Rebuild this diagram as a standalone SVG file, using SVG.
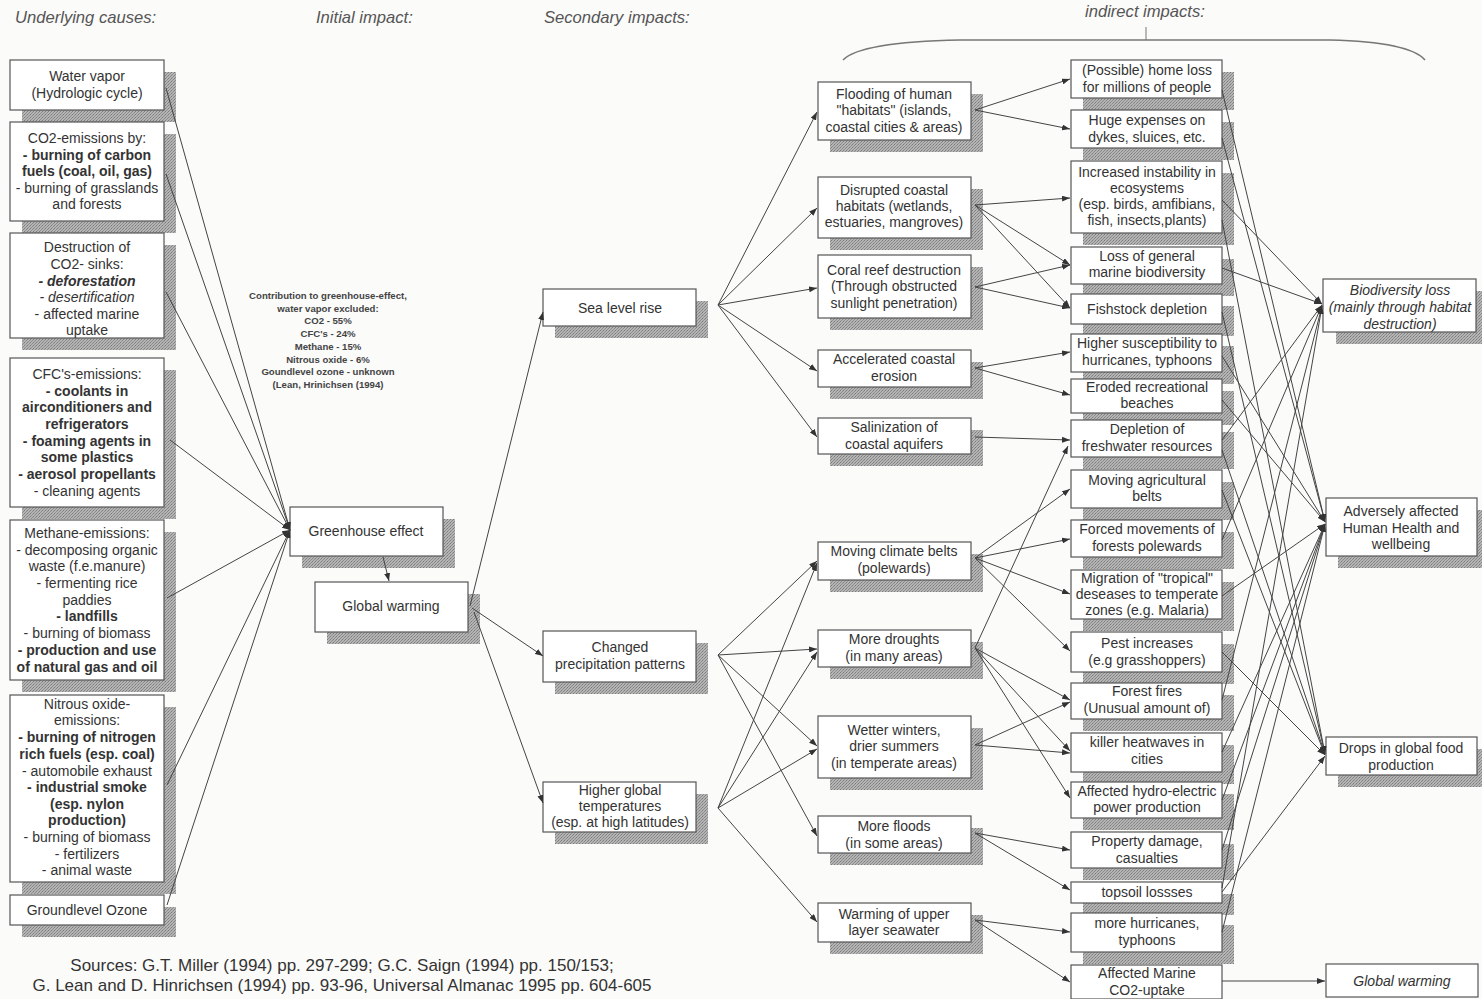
<svg xmlns="http://www.w3.org/2000/svg" width="1482" height="999" viewBox="0 0 1482 999">
  <defs>
    <pattern id="grain" width="3" height="3" patternUnits="userSpaceOnUse">
      <rect width="3" height="3" fill="#b4b4b4"/>
      <rect x="0" y="0" width="1" height="1" fill="#7c7c7c"/>
      <rect x="2" y="1" width="1" height="1" fill="#8a8a8a"/>
      <rect x="1" y="2" width="1" height="1" fill="#909090"/>
    </pattern>
    <marker id="ah" markerWidth="8" markerHeight="6" refX="8" refY="3" orient="auto" markerUnits="userSpaceOnUse">
      <path d="M0,0 L8,3 L0,6 z" fill="#333"/>
    </marker>
    <style>
      .sh { fill: url(#grain); }
      .bx { fill: #fff; stroke: #555; stroke-width: 1.2; }
      .t { font-family: "Liberation Sans", Arial, sans-serif; font-size: 14px; fill: #333; text-anchor: middle; }
      .b { font-weight: bold; font-size: 14px; }
      .i { font-style: italic; }
      .hd { font-family: "Liberation Sans", Arial, sans-serif; font-size: 16.6px; font-style: italic; fill: #555; }
      .note { font-family: "Liberation Sans", Arial, sans-serif; font-size: 9.6px; font-weight: bold; fill: #444; text-anchor: middle; }
      .src { font-family: "Liberation Sans", Arial, sans-serif; font-size: 17px; fill: #333; text-anchor: middle; }
      .ln { stroke: #444; stroke-width: 1; fill: none; marker-end: url(#ah); }
    </style>
  </defs>

  <rect width="1482" height="999" fill="#fbfbfa"/>

  <!-- column headings -->
  <g id="headings">
    <text class="hd" x="15" y="23">Underlying causes:</text>
    <text class="hd" x="316" y="23">Initial impact:</text>
    <text class="hd" x="544" y="23">Secondary impacts:</text>
    <text class="hd" x="1085" y="17">indirect impacts:</text>
    <path d="M843,60 Q860,42 960,40 L1330,40 Q1410,42 1425,60" fill="none" stroke="#777" stroke-width="1.5"/>
    <line x1="1146" y1="27" x2="1146" y2="40" stroke="#777" stroke-width="1"/>
  </g>

  <!-- underlying causes -->
  <g id="water-vapor">
    <rect class="sh" x="22" y="72" width="154" height="50"/>
    <rect class="bx" x="10" y="60" width="154" height="50"/>
    <text class="t" x="87" y="81">Water vapor</text>
    <text class="t" x="87" y="98">(Hydrologic cycle)</text>
  </g>
  <g id="co2-emissions">
    <rect class="sh" x="22" y="134" width="154" height="99"/>
    <rect class="bx" x="10" y="122" width="154" height="99"/>
    <text class="t" x="87" y="143">CO2-emissions by:</text>
    <text class="t b" x="87" y="160">- burning of carbon</text>
    <text class="t b" x="87" y="176">fuels (coal, oil, gas)</text>
    <text class="t" x="87" y="193">- burning of grasslands</text>
    <text class="t" x="87" y="209">and forests</text>
  </g>
  <g id="co2-sinks">
    <rect class="sh" x="22" y="245" width="154" height="105"/>
    <rect class="bx" x="10" y="233" width="154" height="105"/>
    <text class="t" x="87" y="252">Destruction of</text>
    <text class="t" x="87" y="269">CO2- sinks:</text>
    <text class="t b i" x="87" y="286">- deforestation</text>
    <text class="t i" x="87" y="302">- desertification</text>
    <text class="t" x="87" y="319">- affected marine</text>
    <text class="t" x="87" y="335">uptake</text>
  </g>
  <g id="cfc-emissions">
    <rect class="sh" x="22" y="370" width="154" height="149"/>
    <rect class="bx" x="10" y="358" width="154" height="149"/>
    <text class="t" x="87" y="379">CFC's-emissions:</text>
    <text class="t b" x="87" y="396">- coolants in</text>
    <text class="t b" x="87" y="412">airconditioners and</text>
    <text class="t b" x="87" y="429">refrigerators</text>
    <text class="t b" x="87" y="446">- foaming agents in</text>
    <text class="t b" x="87" y="462">some plastics</text>
    <text class="t b" x="87" y="479">- aerosol propellants</text>
    <text class="t" x="87" y="496">-  cleaning agents</text>
  </g>
  <g id="methane-emissions">
    <rect class="sh" x="22" y="532" width="154" height="160"/>
    <rect class="bx" x="10" y="520" width="154" height="160"/>
    <text class="t" x="87" y="538">Methane-emissions:</text>
    <text class="t" x="87" y="555">- decomposing organic</text>
    <text class="t" x="87" y="571">waste (f.e.manure)</text>
    <text class="t" x="87" y="588">- fermenting rice</text>
    <text class="t" x="87" y="605">paddies</text>
    <text class="t b" x="87" y="621">- landfills</text>
    <text class="t" x="87" y="638">- burning of biomass</text>
    <text class="t b" x="87" y="655">- production and use</text>
    <text class="t b" x="87" y="672">of natural gas and oil</text>
  </g>
  <g id="nitrous-oxide">
    <rect class="sh" x="22" y="707" width="154" height="187"/>
    <rect class="bx" x="10" y="695" width="154" height="187"/>
    <text class="t" x="87" y="709">Nitrous oxide-</text>
    <text class="t" x="87" y="725">emissions:</text>
    <text class="t b" x="87" y="742">- burning of nitrogen</text>
    <text class="t b" x="87" y="759">rich fuels (esp. coal)</text>
    <text class="t" x="87" y="776">- automobile exhaust</text>
    <text class="t b" x="87" y="792">- industrial smoke</text>
    <text class="t b" x="87" y="809">(esp. nylon</text>
    <text class="t b" x="87" y="825">production)</text>
    <text class="t" x="87" y="842">- burning of biomass</text>
    <text class="t" x="87" y="859">- fertilizers</text>
    <text class="t" x="87" y="875">- animal waste</text>
  </g>
  <g id="groundlevel-ozone">
    <rect class="sh" x="22" y="907" width="154" height="30"/>
    <rect class="bx" x="10" y="895" width="154" height="30"/>
    <text class="t" x="87" y="915">Groundlevel Ozone</text>
  </g>

  <!-- note on contributions -->
  <g id="contribution-note">
    <text class="note" x="328" y="299">Contribution to greenhouse-effect,</text>
    <text class="note" x="328" y="311.7">water vapor excluded:</text>
    <text class="note" x="328" y="324.4">CO2 - 55%</text>
    <text class="note" x="328" y="337.1">CFC's - 24%</text>
    <text class="note" x="328" y="349.8">Methane - 15%</text>
    <text class="note" x="328" y="362.5">Nitrous oxide - 6%</text>
    <text class="note" x="328" y="375.2">Goundlevel ozone - unknown</text>
    <text class="note" x="328" y="387.9">(Lean, Hrinichsen (1994)</text>
  </g>

  <!-- initial impact -->
  <g id="greenhouse-effect">
    <rect class="sh" x="302" y="519" width="153" height="49"/>
    <rect class="bx" x="290" y="507" width="153" height="49"/>
    <text class="t" x="366" y="536">Greenhouse effect</text>
  </g>
  <g id="global-warming">
    <rect class="sh" x="327" y="594" width="153" height="50"/>
    <rect class="bx" x="315" y="582" width="153" height="50"/>
    <text class="t" x="391" y="611">Global warming</text>
  </g>

  <!-- secondary impacts -->
  <g id="sea-level-rise">
    <rect class="sh" x="555" y="301" width="153" height="37"/>
    <rect class="bx" x="543" y="289" width="153" height="37"/>
    <text class="t" x="620" y="313">Sea level rise</text>
  </g>
  <g id="precipitation">
    <rect class="sh" x="555" y="643" width="153" height="51"/>
    <rect class="bx" x="543" y="631" width="153" height="51"/>
    <text class="t" x="620" y="652">Changed</text>
    <text class="t" x="620" y="669">precipitation patterns</text>
  </g>
  <g id="higher-temperatures">
    <rect class="sh" x="555" y="794" width="153" height="50"/>
    <rect class="bx" x="543" y="782" width="153" height="50"/>
    <text class="t" x="620" y="795">Higher global</text>
    <text class="t" x="620" y="811">temperatures</text>
    <text class="t" x="620" y="827">(esp. at high latitudes)</text>
  </g>

  <!-- direct consequences -->
  <g id="flooding">
    <rect class="sh" x="830" y="94" width="153" height="58"/>
    <rect class="bx" x="818" y="82" width="153" height="58"/>
    <text class="t" x="894" y="99">Flooding of human</text>
    <text class="t" x="894" y="115">"habitats" (islands,</text>
    <text class="t" x="894" y="132">coastal cities &amp; areas)</text>
  </g>
  <g id="coastal-habitats">
    <rect class="sh" x="830" y="189" width="153" height="61"/>
    <rect class="bx" x="818" y="177" width="153" height="61"/>
    <text class="t" x="894" y="195">Disrupted coastal</text>
    <text class="t" x="894" y="211">habitats (wetlands,</text>
    <text class="t" x="894" y="227">estuaries, mangroves)</text>
  </g>
  <g id="coral-reef">
    <rect class="sh" x="830" y="267" width="153" height="63"/>
    <rect class="bx" x="818" y="255" width="153" height="63"/>
    <text class="t" x="894" y="275">Coral reef destruction</text>
    <text class="t" x="894" y="291">(Through obstructed</text>
    <text class="t" x="894" y="308">sunlight penetration)</text>
  </g>
  <g id="coastal-erosion">
    <rect class="sh" x="830" y="362" width="153" height="37"/>
    <rect class="bx" x="818" y="350" width="153" height="37"/>
    <text class="t" x="894" y="364">Accelerated coastal</text>
    <text class="t" x="894" y="381">erosion</text>
  </g>
  <g id="salinization">
    <rect class="sh" x="830" y="430" width="153" height="36"/>
    <rect class="bx" x="818" y="418" width="153" height="36"/>
    <text class="t" x="894" y="432">Salinization of</text>
    <text class="t" x="894" y="449">coastal aquifers</text>
  </g>
  <g id="climate-belts">
    <rect class="sh" x="830" y="554" width="153" height="38"/>
    <rect class="bx" x="818" y="542" width="153" height="38"/>
    <text class="t" x="894" y="556">Moving climate belts</text>
    <text class="t" x="894" y="573">(polewards)</text>
  </g>
  <g id="droughts">
    <rect class="sh" x="830" y="642" width="153" height="37"/>
    <rect class="bx" x="818" y="630" width="153" height="37"/>
    <text class="t" x="894" y="644">More droughts</text>
    <text class="t" x="894" y="661">(in many areas)</text>
  </g>
  <g id="wetter-winters">
    <rect class="sh" x="830" y="728" width="153" height="62"/>
    <rect class="bx" x="818" y="716" width="153" height="62"/>
    <text class="t" x="894" y="735">Wetter winters,</text>
    <text class="t" x="894" y="751">drier summers</text>
    <text class="t" x="894" y="768">(in temperate areas)</text>
  </g>
  <g id="floods">
    <rect class="sh" x="830" y="828" width="153" height="37"/>
    <rect class="bx" x="818" y="816" width="153" height="37"/>
    <text class="t" x="894" y="831">More floods</text>
    <text class="t" x="894" y="848">(in some areas)</text>
  </g>
  <g id="upper-seawater">
    <rect class="sh" x="830" y="915" width="153" height="39"/>
    <rect class="bx" x="818" y="903" width="153" height="39"/>
    <text class="t" x="894" y="919">Warming of upper</text>
    <text class="t" x="894" y="935">layer seawater</text>
  </g>

  <!-- indirect impacts -->
  <g id="home-loss">
    <rect class="sh" x="1083" y="72" width="151" height="38"/>
    <rect class="bx" x="1071" y="60" width="151" height="38"/>
    <text class="t" x="1147" y="75">(Possible) home loss</text>
    <text class="t" x="1147" y="92">for millions of people</text>
  </g>
  <g id="dykes">
    <rect class="sh" x="1083" y="122" width="151" height="38"/>
    <rect class="bx" x="1071" y="110" width="151" height="38"/>
    <text class="t" x="1147" y="125">Huge expenses on</text>
    <text class="t" x="1147" y="142">dykes, sluices, etc.</text>
  </g>
  <g id="ecosystem-instability">
    <rect class="sh" x="1083" y="173" width="151" height="72"/>
    <rect class="bx" x="1071" y="161" width="151" height="72"/>
    <text class="t" x="1147" y="177">Increased instability in</text>
    <text class="t" x="1147" y="193">ecosystems</text>
    <text class="t" x="1147" y="209">(esp. birds, amfibians,</text>
    <text class="t" x="1147" y="225">fish, insects,plants)</text>
  </g>
  <g id="marine-biodiversity">
    <rect class="sh" x="1083" y="259" width="151" height="37"/>
    <rect class="bx" x="1071" y="247" width="151" height="37"/>
    <text class="t" x="1147" y="261">Loss of general</text>
    <text class="t" x="1147" y="277">marine biodiversity</text>
  </g>
  <g id="fishstock">
    <rect class="sh" x="1083" y="306" width="151" height="30"/>
    <rect class="bx" x="1071" y="294" width="151" height="30"/>
    <text class="t" x="1147" y="314">Fishstock depletion</text>
  </g>
  <g id="susceptibility">
    <rect class="sh" x="1083" y="346" width="151" height="38"/>
    <rect class="bx" x="1071" y="334" width="151" height="38"/>
    <text class="t" x="1147" y="348">Higher susceptibility to</text>
    <text class="t" x="1147" y="365">hurricanes, typhoons</text>
  </g>
  <g id="beaches">
    <rect class="sh" x="1083" y="391" width="151" height="34"/>
    <rect class="bx" x="1071" y="379" width="151" height="34"/>
    <text class="t" x="1147" y="392">Eroded recreational</text>
    <text class="t" x="1147" y="408">beaches</text>
  </g>
  <g id="freshwater">
    <rect class="sh" x="1083" y="432" width="151" height="37"/>
    <rect class="bx" x="1071" y="420" width="151" height="37"/>
    <text class="t" x="1147" y="434">Depletion of</text>
    <text class="t" x="1147" y="451">freshwater resources</text>
  </g>
  <g id="agricultural-belts">
    <rect class="sh" x="1083" y="482" width="151" height="38"/>
    <rect class="bx" x="1071" y="470" width="151" height="38"/>
    <text class="t" x="1147" y="485">Moving agricultural</text>
    <text class="t" x="1147" y="501">belts</text>
  </g>
  <g id="forests">
    <rect class="sh" x="1083" y="532" width="151" height="37"/>
    <rect class="bx" x="1071" y="520" width="151" height="37"/>
    <text class="t" x="1147" y="534">Forced movements of</text>
    <text class="t" x="1147" y="551">forests polewards</text>
  </g>
  <g id="tropical-diseases">
    <rect class="sh" x="1083" y="582" width="151" height="49"/>
    <rect class="bx" x="1071" y="570" width="151" height="49"/>
    <text class="t" x="1147" y="583">Migration of "tropical"</text>
    <text class="t" x="1147" y="599">deseases to temperate</text>
    <text class="t" x="1147" y="615">zones (e.g. Malaria)</text>
  </g>
  <g id="pests">
    <rect class="sh" x="1083" y="644" width="151" height="40"/>
    <rect class="bx" x="1071" y="632" width="151" height="40"/>
    <text class="t" x="1147" y="648">Pest increases</text>
    <text class="t" x="1147" y="665">(e.g grasshoppers)</text>
  </g>
  <g id="forest-fires">
    <rect class="sh" x="1083" y="695" width="151" height="36"/>
    <rect class="bx" x="1071" y="683" width="151" height="36"/>
    <text class="t" x="1147" y="696">Forest fires</text>
    <text class="t" x="1147" y="713">(Unusual amount of)</text>
  </g>
  <g id="heatwaves">
    <rect class="sh" x="1083" y="745" width="151" height="39"/>
    <rect class="bx" x="1071" y="733" width="151" height="39"/>
    <text class="t" x="1147" y="747">killer heatwaves in</text>
    <text class="t" x="1147" y="764">cities</text>
  </g>
  <g id="hydro-electric">
    <rect class="sh" x="1083" y="794" width="151" height="36"/>
    <rect class="bx" x="1071" y="782" width="151" height="36"/>
    <text class="t" x="1147" y="796">Affected hydro-electric</text>
    <text class="t" x="1147" y="812">power production</text>
  </g>
  <g id="property-damage">
    <rect class="sh" x="1083" y="844" width="151" height="36"/>
    <rect class="bx" x="1071" y="832" width="151" height="36"/>
    <text class="t" x="1147" y="846">Property damage,</text>
    <text class="t" x="1147" y="863">casualties</text>
  </g>
  <g id="topsoil">
    <rect class="sh" x="1083" y="894" width="151" height="21"/>
    <rect class="bx" x="1071" y="882" width="151" height="21"/>
    <text class="t" x="1147" y="897">topsoil lossses</text>
  </g>
  <g id="hurricanes">
    <rect class="sh" x="1083" y="925" width="151" height="39"/>
    <rect class="bx" x="1071" y="913" width="151" height="39"/>
    <text class="t" x="1147" y="928">more hurricanes,</text>
    <text class="t" x="1147" y="945">typhoons</text>
  </g>
  <g id="marine-uptake">
    <rect class="bx" x="1071" y="965" width="151" height="34"/>
    <text class="t" x="1147" y="978">Affected Marine</text>
    <text class="t" x="1147" y="995">CO2-uptake</text>
  </g>

  <!-- final outcomes -->
  <g id="biodiversity-loss">
    <rect class="sh" x="1336" y="291" width="153" height="53"/>
    <rect class="bx" x="1323" y="279" width="153" height="53"/>
    <text class="t i" x="1400" y="295">Biodiversity loss</text>
    <text class="t i" x="1400" y="312">(mainly through habitat</text>
    <text class="t i" x="1400" y="329">destruction)</text>
  </g>
  <g id="human-health">
    <rect class="sh" x="1338" y="510" width="151" height="58"/>
    <rect class="bx" x="1326" y="498" width="151" height="58"/>
    <text class="t" x="1401" y="516">Adversely affected</text>
    <text class="t" x="1401" y="533">Human Health and</text>
    <text class="t" x="1401" y="549">wellbeing</text>
  </g>
  <g id="food-production">
    <rect class="sh" x="1338" y="749" width="151" height="38"/>
    <rect class="bx" x="1326" y="737" width="151" height="38"/>
    <text class="t" x="1401" y="753">Drops in global food</text>
    <text class="t" x="1401" y="770">production</text>
  </g>
  <g id="global-warming-feedback">
    <rect class="bx" x="1326" y="964" width="152" height="33"/>
    <text class="t i" x="1402" y="986">Global warming</text>
  </g>

  <!-- connectors -->
  <g id="connectors">
    <!-- causes to greenhouse effect -->
    <line class="ln" x1="166" y1="88" x2="290" y2="530"/>
    <line class="ln" x1="166" y1="174" x2="290" y2="530"/>
    <line class="ln" x1="166" y1="292" x2="290" y2="530"/>
    <line class="ln" x1="170" y1="440" x2="290" y2="530"/>
    <line class="ln" x1="167" y1="598" x2="290" y2="530"/>
    <line class="ln" x1="167" y1="785" x2="290" y2="530"/>
    <line class="ln" x1="167" y1="905" x2="290" y2="530"/>
    <!-- initial chain -->
    <line class="ln" x1="383" y1="557" x2="389" y2="581"/>
    <line class="ln" x1="470" y1="606" x2="543" y2="312"/>
    <line class="ln" x1="472" y1="608" x2="543" y2="656"/>
    <line class="ln" x1="474" y1="612" x2="543" y2="803"/>
    <!-- sea level rise -->
    <line class="ln" x1="718" y1="305" x2="817" y2="112"/>
    <line class="ln" x1="718" y1="305" x2="817" y2="208"/>
    <line class="ln" x1="718" y1="305" x2="817" y2="288"/>
    <line class="ln" x1="718" y1="305" x2="817" y2="371"/>
    <line class="ln" x1="718" y1="305" x2="817" y2="437"/>
    <!-- changed precipitation -->
    <line class="ln" x1="718" y1="655" x2="817" y2="561"/>
    <line class="ln" x1="718" y1="655" x2="817" y2="649"/>
    <line class="ln" x1="718" y1="655" x2="817" y2="746"/>
    <line class="ln" x1="718" y1="655" x2="817" y2="836"/>
    <!-- higher temperatures -->
    <line class="ln" x1="718" y1="808" x2="817" y2="563"/>
    <line class="ln" x1="718" y1="808" x2="817" y2="652"/>
    <line class="ln" x1="718" y1="808" x2="817" y2="749"/>
    <line class="ln" x1="718" y1="808" x2="817" y2="922"/>
    <!-- coastal consequences -->
    <line class="ln" x1="975" y1="110" x2="1070" y2="79"/>
    <line class="ln" x1="975" y1="110" x2="1070" y2="129"/>
    <line class="ln" x1="975" y1="205" x2="1070" y2="198"/>
    <line class="ln" x1="975" y1="205" x2="1070" y2="265"/>
    <line class="ln" x1="975" y1="205" x2="1070" y2="308"/>
    <line class="ln" x1="975" y1="287" x2="1070" y2="265"/>
    <line class="ln" x1="975" y1="287" x2="1070" y2="308"/>
    <line class="ln" x1="975" y1="368" x2="1070" y2="352"/>
    <line class="ln" x1="975" y1="368" x2="1070" y2="395"/>
    <line class="ln" x1="975" y1="437" x2="1070" y2="440"/>
    <!-- climate consequences -->
    <line class="ln" x1="975" y1="558" x2="1070" y2="489"/>
    <line class="ln" x1="975" y1="558" x2="1070" y2="539"/>
    <line class="ln" x1="975" y1="558" x2="1070" y2="594"/>
    <line class="ln" x1="975" y1="558" x2="1070" y2="651"/>
    <line class="ln" x1="975" y1="648" x2="1068" y2="446"/>
    <line class="ln" x1="975" y1="648" x2="1070" y2="700"/>
    <line class="ln" x1="975" y1="648" x2="1070" y2="751"/>
    <line class="ln" x1="975" y1="648" x2="1070" y2="798"/>
    <line class="ln" x1="975" y1="745" x2="1070" y2="702"/>
    <line class="ln" x1="975" y1="745" x2="1070" y2="753"/>
    <line class="ln" x1="975" y1="833" x2="1070" y2="850"/>
    <line class="ln" x1="975" y1="833" x2="1070" y2="890"/>
    <line class="ln" x1="975" y1="920" x2="1070" y2="932"/>
    <line class="ln" x1="975" y1="920" x2="1070" y2="982"/>
    <line class="ln" x1="1222" y1="981" x2="1325" y2="981"/>
    <!-- into biodiversity loss -->
    <line class="ln" x1="1222" y1="200" x2="1322" y2="304"/>
    <line class="ln" x1="1222" y1="268" x2="1322" y2="304"/>
    <line class="ln" x1="1222" y1="440" x2="1322" y2="305"/>
    <line class="ln" x1="1222" y1="540" x2="1322" y2="305"/>
    <line class="ln" x1="1222" y1="700" x2="1322" y2="306"/>
    <line class="ln" x1="1222" y1="888" x2="1322" y2="306"/>
    <!-- into human health -->
    <line class="ln" x1="1222" y1="90" x2="1325" y2="522"/>
    <line class="ln" x1="1222" y1="138" x2="1325" y2="522"/>
    <line class="ln" x1="1222" y1="356" x2="1325" y2="522"/>
    <line class="ln" x1="1222" y1="400" x2="1325" y2="522"/>
    <line class="ln" x1="1222" y1="596" x2="1325" y2="524"/>
    <line class="ln" x1="1222" y1="752" x2="1325" y2="524"/>
    <line class="ln" x1="1222" y1="800" x2="1325" y2="524"/>
    <line class="ln" x1="1222" y1="850" x2="1325" y2="524"/>
    <line class="ln" x1="1222" y1="932" x2="1325" y2="524"/>
    <!-- into food production -->
    <line class="ln" x1="1222" y1="220" x2="1325" y2="754"/>
    <line class="ln" x1="1222" y1="312" x2="1325" y2="754"/>
    <line class="ln" x1="1222" y1="450" x2="1325" y2="754"/>
    <line class="ln" x1="1222" y1="490" x2="1325" y2="755"/>
    <line class="ln" x1="1222" y1="652" x2="1325" y2="755"/>
    <line class="ln" x1="1222" y1="892" x2="1325" y2="756"/>
  </g>

  <!-- references -->
  <g id="sources">
    <text class="src" x="342" y="971">Sources: G.T. Miller (1994) pp. 297-299; G.C. Saign (1994) pp. 150/153;</text>
    <text class="src" x="342" y="991">G. Lean and D. Hinrichsen (1994) pp. 93-96, Universal Almanac 1995 pp. 604-605</text>
  </g>
</svg>
